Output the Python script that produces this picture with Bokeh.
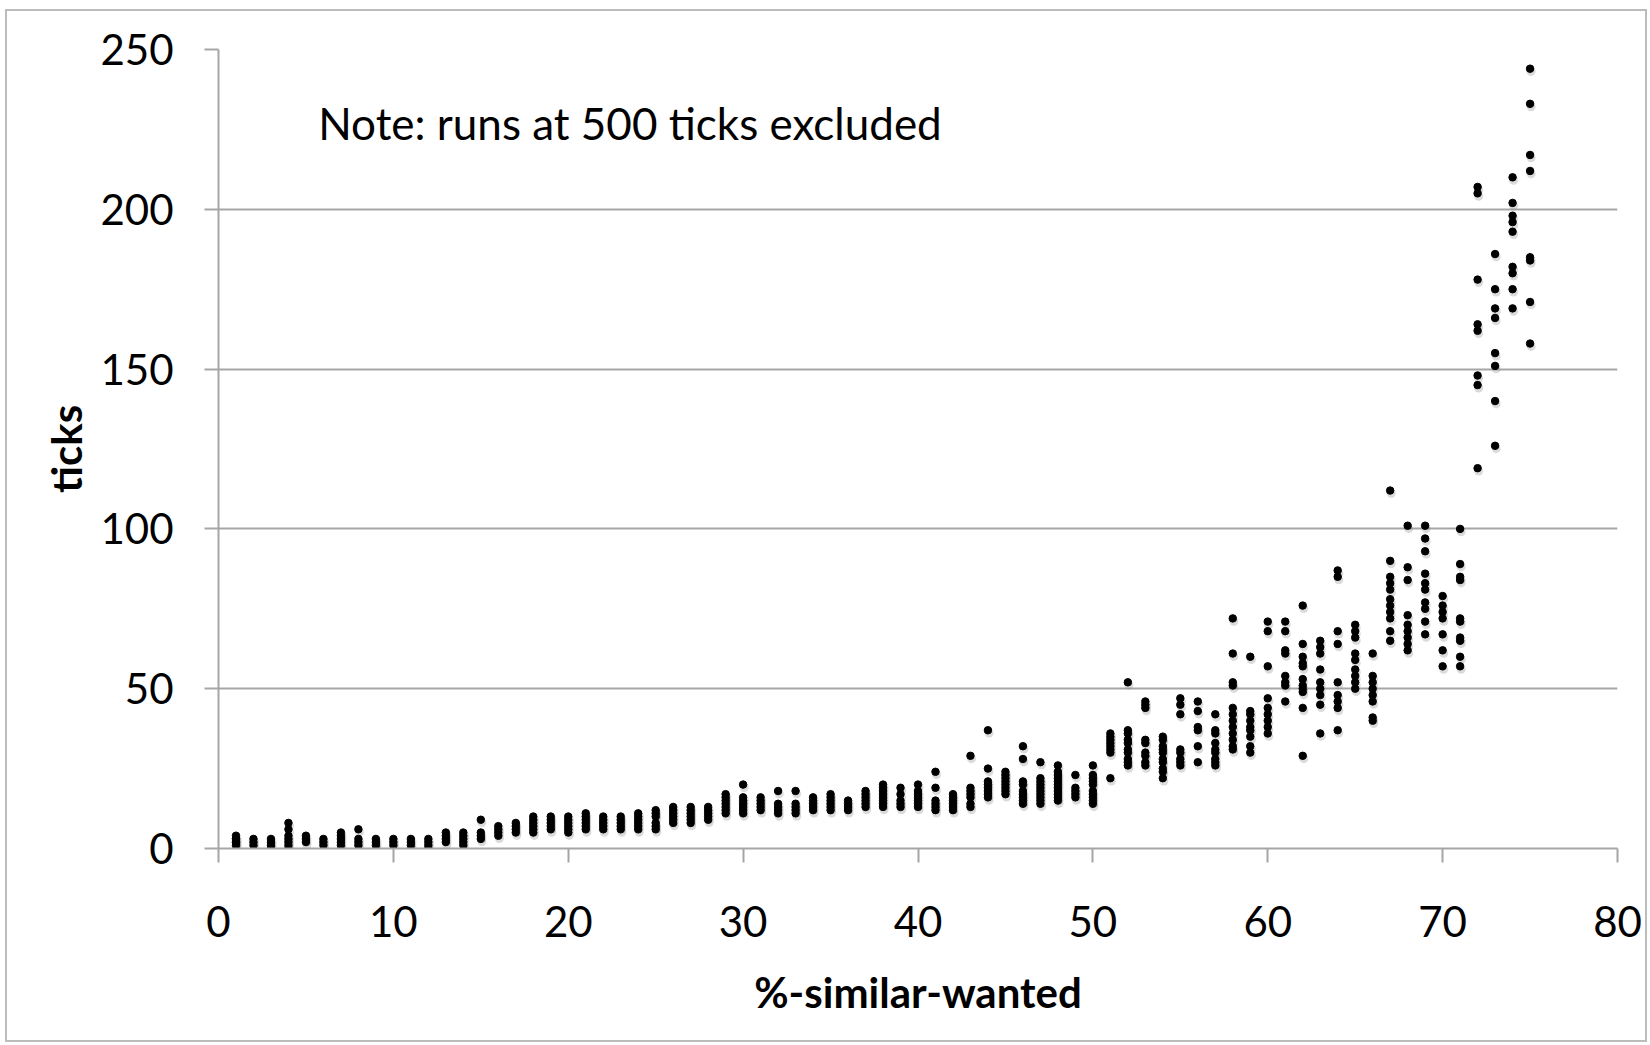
from bokeh.plotting import figure
from bokeh.models import Label, FixedTicker, Range1d, ColumnDataSource
from bokeh.transform import dodge
from bokeh.embed import file_html
from bokeh.resources import INLINE

# %-similar-wanted settings
pct_similar = list(range(1, 76))
# ticks per run (runs at 500 ticks excluded), one list per setting
ticks_runs = [
    [1, 2, 2, 3, 3, 4], [1, 2, 3], [0, 1, 2, 3], [0, 1, 2, 3, 4, 6, 8], [2, 3, 4],
    [1, 2, 3], [1, 2, 3, 4, 5], [1, 2, 3, 6], [1, 2, 3], [1, 2, 3],
    [1, 2, 3], [0, 1, 2, 3], [2, 3, 4, 5], [1, 2, 3, 4, 5], [3, 4, 5, 9],
    [4, 5, 6, 7], [5, 6, 7, 8], [5, 6, 7, 8, 9, 10], [6, 7, 8, 9, 10], [5, 6, 7, 8, 9, 10],
    [6, 7, 8, 9, 10, 11], [6, 7, 8, 9, 10], [6, 7, 8, 9, 10], [6, 7, 8, 9, 10, 11], [6, 7, 8, 10, 11, 12],
    [8, 9, 10, 11, 12, 13], [8, 9, 10, 11, 12, 13], [9, 10, 11, 12, 13], [11, 12, 13, 14, 15, 16, 17], [11, 12, 13, 14, 15, 16, 20],
    [12, 13, 14, 15, 16], [11, 12, 13, 14, 18], [11, 12, 13, 14, 18], [12, 13, 14, 15, 16], [12, 13, 14, 15, 16, 17],
    [12, 13, 14, 15], [13, 14, 15, 16, 17, 18], [13, 14, 15, 16, 17, 18, 19, 20], [13, 14, 15, 17, 19], [13, 14, 15, 16, 17, 18, 20],
    [12, 13, 14, 15, 19, 24], [12, 13, 14, 15, 16, 17], [13, 14, 16, 17, 18, 19, 29], [16, 17, 18, 19, 20, 21, 25, 37], [17, 18, 19, 20, 21, 22, 23, 24],
    [14, 15, 16, 17, 18, 20, 21, 28, 32], [14, 15, 16, 17, 18, 19, 20, 21, 22, 27], [15, 16, 17, 18, 19, 20, 21, 22, 23, 24, 26], [16, 17, 18, 19, 23], [14, 15, 16, 17, 18, 20, 21, 22, 23, 26],
    [22, 30, 31, 32, 33, 34, 35, 36], [26, 27, 28, 30, 31, 33, 34, 36, 37, 52], [26, 27, 29, 30, 33, 34, 44, 45, 46], [22, 24, 25, 27, 28, 30, 31, 32, 34, 35], [26, 27, 28, 30, 31, 42, 45, 47],
    [27, 32, 37, 38, 43, 46], [26, 27, 28, 30, 31, 33, 36, 37, 42], [31, 32, 34, 36, 38, 40, 42, 44, 51, 52, 61, 72], [30, 32, 35, 37, 38, 40, 42, 43, 60], [36, 38, 40, 42, 44, 47, 57, 68, 71],
    [46, 51, 52, 54, 61, 62, 68, 71], [29, 44, 49, 50, 51, 53, 57, 58, 60, 64, 76], [36, 45, 48, 50, 52, 56, 61, 63, 65], [37, 44, 46, 48, 52, 64, 68, 85, 87], [50, 52, 54, 56, 59, 61, 66, 68, 70],
    [40, 41, 46, 48, 50, 52, 54, 61], [65, 68, 72, 74, 76, 78, 81, 83, 85, 90, 112], [62, 64, 66, 68, 70, 73, 84, 88, 101], [67, 71, 75, 77, 81, 83, 86, 93, 97, 101], [57, 62, 67, 72, 74, 76, 79],
    [57, 60, 65, 66, 71, 72, 84, 85, 89, 100], [119, 145, 148, 162, 164, 178, 205, 207], [126, 140, 151, 155, 166, 169, 175, 186], [169, 175, 180, 182, 193, 196, 198, 202, 210], [158, 171, 184, 185, 212, 217, 233, 244],
]
x_ticks = [0, 10, 20, 30, 40, 50, 60, 70, 80]
y_ticks = [0, 50, 100, 150, 200, 250]
note_text = "Note: runs at 500 ticks excluded"
x_title = "%-similar-wanted"
y_title = "ticks"

xs, ys = [], []
for pct, runs in zip(pct_similar, ticks_runs):
    for t in runs:
        xs.append(pct)
        ys.append(t)
src = ColumnDataSource(dict(x=xs, y=ys))

FONT = "Lato"
GRID = "#a6a6a6"

p = figure(width=1642, height=1033, output_backend="svg", toolbar_location=None,
           x_range=Range1d(0, 80), y_range=Range1d(0, 250),
           min_border_left=211, min_border_right=32, min_border_top=38, min_border_bottom=196)
p.styles = {"border": "2px solid #bcbcbc", "box-sizing": "border-box",
            "margin-left": "5px", "margin-top": "9px"}
p.outline_line_color = None
p.background_fill_color = "white"
p.border_fill_color = "white"

p.xgrid.grid_line_color = None
p.ygrid.grid_line_color = GRID
p.ygrid.grid_line_width = 2
p.ygrid.ticker = FixedTicker(ticks=y_ticks)

for ax in (p.xaxis, p.yaxis):
    ax.axis_line_color = GRID
    ax.axis_line_width = 2
    ax.major_tick_line_color = GRID
    ax.major_tick_line_width = 2
    ax.major_tick_in = 0
    ax.major_tick_out = 14
    ax.minor_tick_line_color = None
    ax.major_label_text_font = FONT
    ax.major_label_text_font_size = "42px"
    ax.major_label_text_color = "black"
    ax.axis_label_text_font = FONT
    ax.axis_label_text_font_style = "bold"
    ax.axis_label_text_font_size = "42px"
    ax.axis_label_text_color = "black"

p.xaxis.ticker = FixedTicker(ticks=x_ticks)
p.yaxis.ticker = FixedTicker(ticks=y_ticks)
p.xaxis.axis_label = x_title
p.yaxis.axis_label = y_title
p.xaxis.major_label_standoff = 43
p.yaxis.major_label_standoff = 31
p.xaxis.axis_label_standoff = 27
p.yaxis.axis_label_standoff = 6

# soft drop shadow, then the black markers
p.scatter(x=dodge("x", 0.06, range=p.x_range), y=dodge("y", -0.9, range=p.y_range), source=src,
          size=9, marker="circle", fill_color="#888888", line_color=None, fill_alpha=0.3)
p.scatter(x="x", y="y", source=src, size=7.5, marker="circle", fill_color="black", line_color="black")

p.add_layout(Label(x=5.7, y=227, text=note_text, text_font=FONT, text_font_size="44px",
                   text_baseline="middle", text_color="black"))

open("out.html", "w").write(file_html(p, INLINE))
